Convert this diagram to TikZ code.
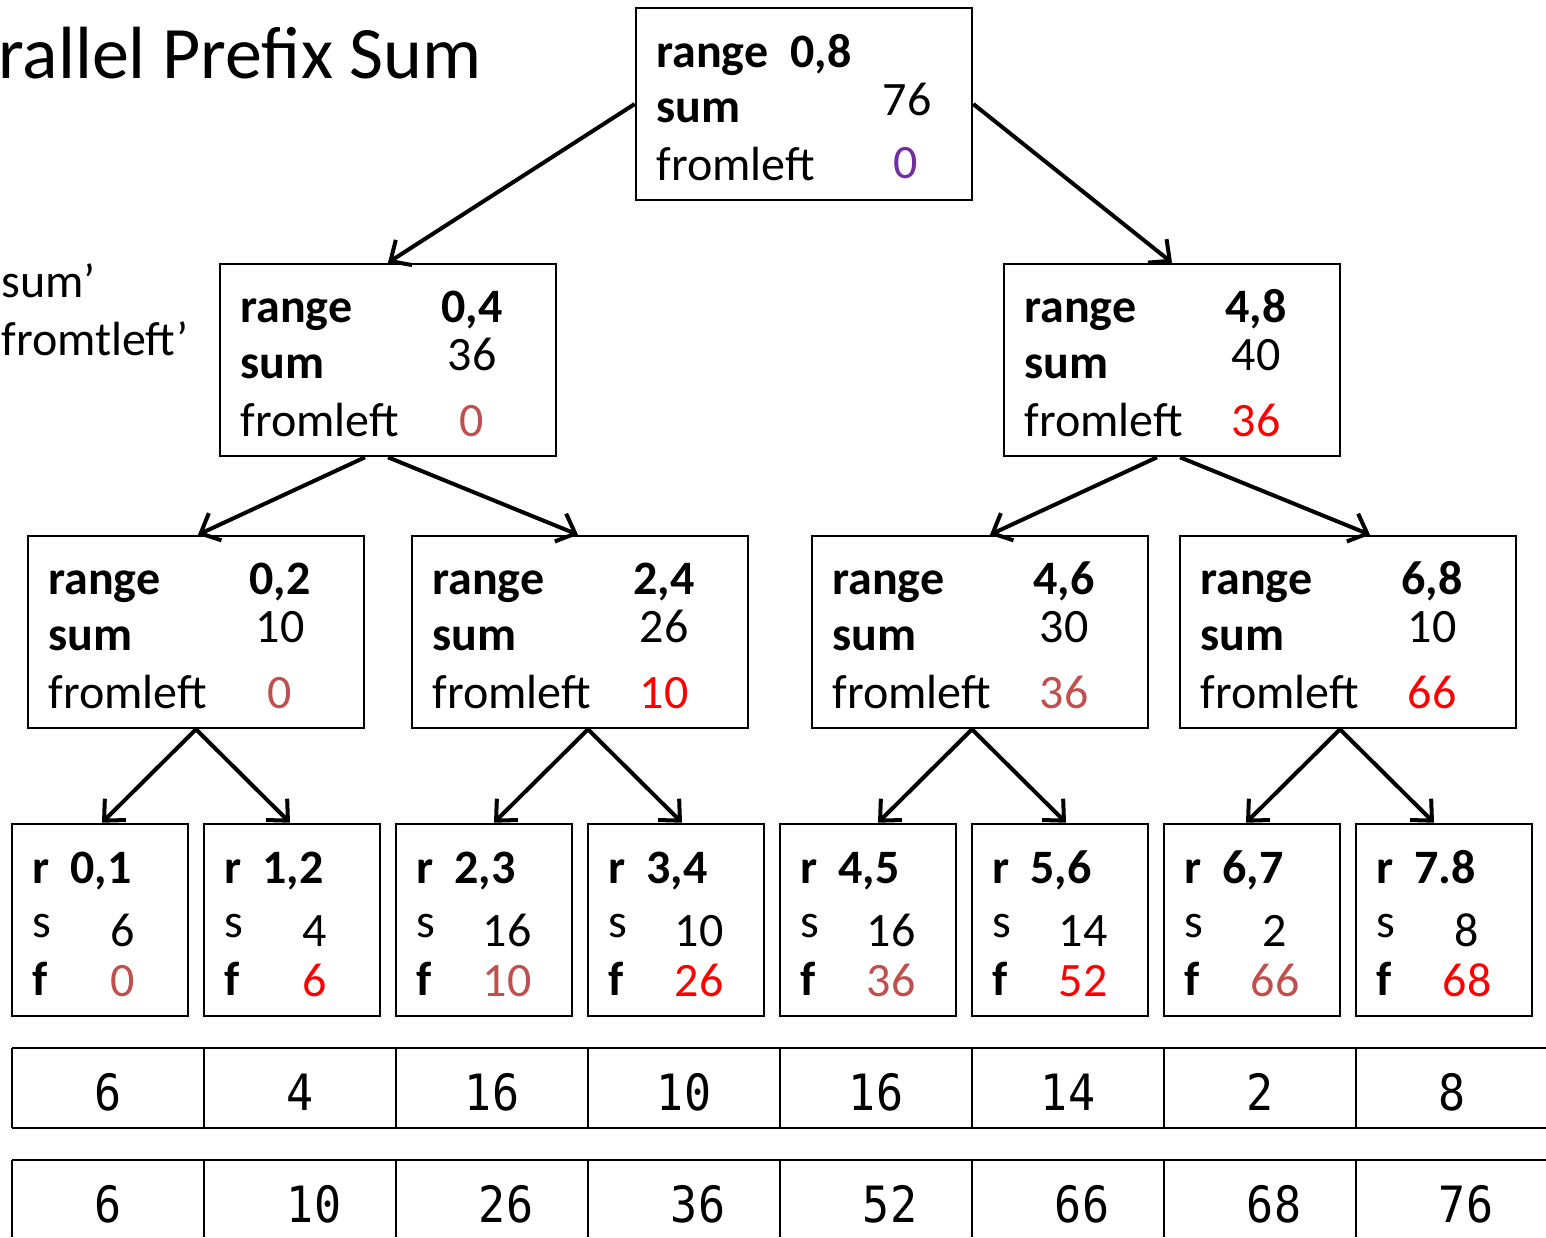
\documentclass[tikz,border=0pt]{standalone}
\usepackage{fontspec}
\setmainfont{Carlito}
\newfontfamily\tabfont[FakeStretch=0.9]{DejaVu Sans Mono}
\usetikzlibrary{arrows.meta}
\definecolor{accred}{HTML}{C0504D}
\definecolor{purp}{HTML}{7030A0}

\tikzset{
  x=0.5pt, y=-0.5pt,
  box/.style={draw, line width=1.3pt, minimum width=168pt, minimum height=96pt, inner sep=0pt},
  leafbox/.style={draw, line width=1.3pt, minimum width=88pt, minimum height=96pt, inner sep=0pt},
  lbl/.style={anchor=base west, inner sep=0pt, font=\fontsize{24}{28}\selectfont},
  lblb/.style={anchor=base west, inner sep=0pt, font=\fontsize{24}{28}\selectfont\bfseries},
  val/.style={anchor=base, inner sep=0pt, font=\fontsize{24}{28}\selectfont},
  valb/.style={anchor=base, inner sep=0pt, font=\fontsize{24}{28}\selectfont\bfseries},
  cell/.style={anchor=base, inner sep=0pt, font=\fontsize{25}{28}\tabfont},
  arr/.style={line width=2pt, -{Straight Barb[length=8pt,width=15pt,line width=2pt]}},
  grid/.style={line width=1pt}
}

% node with range / sum / fromleft rows; #1 name, #2,#3 top-left corner
\newcommand\rangebox[7]{%
  \node[box] (#1) at ({#2+168},{#3+96}) {};
  \node[lblb] (#1-rl) at ({#2+20},{#3+58}) {range};
  \node[valb] (#1-rv) at ({#2+252},{#3+58}) {#4};
  \node[lblb] (#1-sl) at ({#2+20},{#3+114}) {sum};
  \node[val]  (#1-sv) at ({#2+252},{#3+106}) {#5};
  \node[lbl]  (#1-fl) at ({#2+20},{#3+172}) {fromleft};
  \node[val, text=#7] (#1-fv) at ({#2+252},{#3+172}) {#6};
}
% leaf with r / s / f rows; #1 name, #2 left edge
\newcommand\leafbox[6]{%
  \node[leafbox] (#1) at ({#2+88},920) {};
  \node[lblb] (#1-rl) at ({#2+20},883) {r};
  \node[lblb] (#1-rv) at ({#2+58},883) {#3};
  \node[lbl]  (#1-sl) at ({#2+20},937) {s};
  \node[val]  (#1-sv) at ({#2+111},946) {#4};
  \node[lblb] (#1-fl) at ({#2+20},995) {f};
  \node[val, text=#6] (#1-fv) at ({#2+111},996) {#5};
}

\begin{document}
\begin{tikzpicture}
\useasboundingbox (0,0) rectangle (1546,1237);
\clip (0,0) rectangle (1546,1237);

% heading and side notes
\node[anchor=base west, inner sep=0pt, font=\fontsize{37}{40}\selectfont] (title) at (-2,78) {rallel Prefix Sum};
\node[lbl] (note1) at (1,297) {sum’};
\node[lbl] (note2) at (1,355) {fromtleft’};

% root
\node[box] (top) at (804,104) {};
\node[lblb] (top-rl) at (656,67) {range};
\node[lblb] (top-rv) at (790,67) {0,8};
\node[lblb] (top-sl) at (656,122) {sum};
\node[val]  (top-sv) at (907,115) {76};
\node[lbl]  (top-fl) at (656,180) {fromleft};
\node[val, text=purp] (top-fv) at (906,178) {0};

% inner levels
\rangebox{m1}{220}{264}{0,4}{36}{0}{accred}
\rangebox{m2}{1004}{264}{4,8}{40}{36}{red}
\rangebox{q1}{28}{536}{0,2}{10}{0}{accred}
\rangebox{q2}{412}{536}{2,4}{26}{10}{red}
\rangebox{q3}{812}{536}{4,6}{30}{36}{accred}
\rangebox{q4}{1180}{536}{6,8}{10}{66}{red}

% leaves
\leafbox{l1}{12}{0,1}{6}{0}{accred}
\leafbox{l2}{204}{1,2}{4}{6}{red}
\leafbox{l3}{396}{2,3}{16}{10}{accred}
\leafbox{l4}{588}{3,4}{10}{26}{red}
\leafbox{l5}{780}{4,5}{16}{36}{accred}
\leafbox{l6}{972}{5,6}{14}{52}{red}
\leafbox{l7}{1164}{6,7}{2}{66}{accred}
\leafbox{l8}{1356}{7.8}{8}{68}{red}

% tree edges
\draw[arr] (top.west) -- (m1.north);
\draw[arr] (top.east) -- (m2.north);
\draw[arr] ([xshift=-11.5pt]m1.south) -- ([xshift=1pt]q1.north);
\draw[arr] (m1.south) -- ([xshift=-1pt]q2.north);
\draw[arr] ([xshift=-7.5pt]m2.south) -- ([xshift=5pt]q3.north);
\draw[arr] ([xshift=4pt]m2.south) -- ([xshift=11pt]q4.north);
\draw[arr] (q1.south) -- ([xshift=1pt]l1.north);
\draw[arr] (q1.south) -- ([xshift=-1pt]l2.north);
\draw[arr] ([xshift=4pt]q2.south) -- ([xshift=5pt]l3.north);
\draw[arr] ([xshift=4pt]q2.south) -- ([xshift=3pt]l4.north);
\draw[arr] ([xshift=-4pt]q3.south) -- ([xshift=5pt]l5.north);
\draw[arr] ([xshift=-4pt]q3.south) -- ([xshift=3pt]l6.north);
\draw[arr] ([xshift=-4pt]q4.south) -- ([xshift=-3pt]l7.north);
\draw[arr] ([xshift=-4pt]q4.south) -- ([xshift=-5pt]l8.north);

% input array
\draw[grid] (12,1048) -- (1546,1048);
\draw[grid] (12,1128) -- (1546,1128);
\foreach \i in {0,...,7} \draw[grid] ({12+192*\i},1048) -- ({12+192*\i},1128);
\foreach \v [count=\i from 0] in {6,4,16,10,16,14,2,8}
  \node[cell] (in\i) at ({108+192*\i},1110) {\v};

% prefix sums
\draw[grid] (12,1160) -- (1546,1160);
\foreach \i in {0,...,7} \draw[grid] ({12+192*\i},1160) -- ({12+192*\i},1237);
\node[cell] (out0) at (108,1222) {6};
\foreach \v [count=\i from 1] in {10,26,36,52,66,68,76}
  \node[cell] (out\i) at ({314+192*(\i-1)},1222) {\v};
\end{tikzpicture}
\end{document}
